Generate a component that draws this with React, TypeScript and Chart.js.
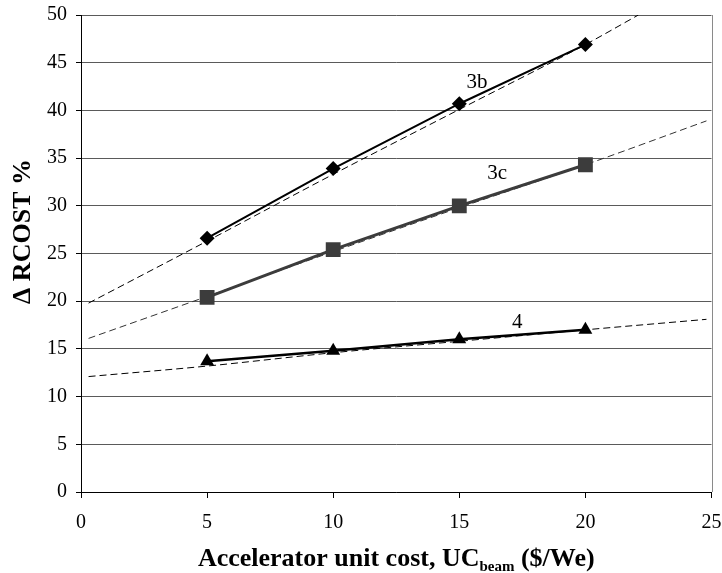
import React, { useEffect, useRef } from "react";
import { Chart, registerables } from "chart.js";

Chart.register(...registerables);

// ---- data ----
const unitCost = [5, 10, 15, 20];
const rcost3b = [26.6, 33.9, 40.7, 46.9];
const rcost3c = [20.4, 25.4, 30.0, 34.3];
const rcost4 = [13.7, 14.8, 16.0, 17.0];

const trendX3b = [0.3, 5, 10, 15, 20, 22.1];
const trendY3b = [19.8, 26.3, 33.3, 40.1, 46.9, 50];
const trendX3c = [0.3, 5, 10, 15, 20, 24.8];
const trendY3c = [16.1, 20.5, 25.2, 29.8, 34.3, 38.9];
const trendX4 = [0.3, 5, 10, 15, 20, 24.8];
const trendY4 = [12.1, 13.2, 14.6, 15.8, 17.0, 18.1];

const seriesLabels = ["3b", "3c", "4"];
const labelX = [15.7, 16.5, 17.3];
const labelY = [42.9, 33.4, 17.8];

const xMin = 0;
const xMax = 25;
const xStep = 5;
const yMin = 0;
const yMax = 50;
const yStep = 5;

const yTitle = "\u0394 RCOST %";
const xTitleMain = "Accelerator unit cost, UC";
const xTitleSub = "beam";
const xTitleTail = " ($/We)";

const FONT = "'Liberation Serif', 'Times New Roman', serif";

const pts = (xs: number[], ys: number[]) => xs.map((x, i) => ({ x, y: ys[i] }));

const overlayPlugin = {
  id: "overlay",
  afterDraw(chart: any) {
    const { ctx, chartArea, scales } = chart;
    const xs = scales.x;
    const ys = scales.y;
    ctx.save();
    // right border of plot area
    ctx.strokeStyle = "#8a8a8a";
    ctx.lineWidth = 1;
    ctx.beginPath();
    ctx.moveTo(Math.round(chartArea.right) + 0.5, chartArea.top);
    ctx.lineTo(Math.round(chartArea.right) + 0.5, chartArea.bottom);
    ctx.stroke();

    // series labels
    ctx.fillStyle = "#000";
    ctx.font = `21px ${FONT}`;
    ctx.textAlign = "center";
    ctx.textBaseline = "middle";
    seriesLabels.forEach((t, i) => {
      ctx.fillText(t, xs.getPixelForValue(labelX[i]), ys.getPixelForValue(labelY[i]));
    });

    // y title
    ctx.save();
    ctx.translate(23, (chartArea.top + chartArea.bottom) / 2 - 22);
    ctx.rotate(-Math.PI / 2);
    ctx.font = `bold 26px ${FONT}`;
    ctx.textAlign = "center";
    ctx.textBaseline = "middle";
    ctx.fillText(yTitle, 0, 0);
    ctx.restore();

    // x title with subscript
    const mainFont = `bold 26px ${FONT}`;
    const subFont = `bold 15px ${FONT}`;
    ctx.textAlign = "left";
    ctx.textBaseline = "alphabetic";
    ctx.font = mainFont;
    const w1 = ctx.measureText(xTitleMain).width;
    const w3 = ctx.measureText(xTitleTail).width;
    ctx.font = subFont;
    const w2 = ctx.measureText(xTitleSub).width;
    const total = w1 + w2 + w3;
    const cx = (chartArea.left + chartArea.right) / 2;
    let x0 = cx - total / 2;
    const base = 566;
    ctx.font = mainFont;
    ctx.fillText(xTitleMain, x0, base);
    x0 += w1;
    ctx.font = subFont;
    ctx.fillText(xTitleSub, x0, base + 5);
    x0 += w2;
    ctx.font = mainFont;
    ctx.fillText(xTitleTail, x0, base);
    ctx.restore();
  },
};

export default function App() {
  const ref = useRef<HTMLCanvasElement | null>(null);
  useEffect(() => {
    if (!ref.current) return;
    const trendStyle = (color: string) => ({
      type: "line" as const,
      borderColor: color,
      borderWidth: 1,
      borderDash: [7, 4],
      pointRadius: 0,
      fill: false,
      cubicInterpolationMode: "monotone" as const,
      showLine: true,
    });
    const chart = new Chart(ref.current, {
      type: "scatter",
      data: {
        datasets: [
          {
            label: "3b",
            data: pts(unitCost, rcost3b),
            showLine: true,
            borderColor: "#000",
            borderWidth: 2,
            pointStyle: "rectRot",
            pointRadius: 7.5,
            pointBackgroundColor: "#000",
            pointBorderColor: "#000",
            pointBorderWidth: 0,
          },
          {
            label: "3c",
            data: pts(unitCost, rcost3c),
            showLine: true,
            borderColor: "#3c3c3c",
            borderWidth: 3,
            pointStyle: "rect",
            pointRadius: 10.5,
            pointBackgroundColor: "#3c3c3c",
            pointBorderColor: "#3c3c3c",
            pointBorderWidth: 0,
          },
          {
            label: "4",
            data: pts(unitCost, rcost4),
            showLine: true,
            borderColor: "#000",
            borderWidth: 2.5,
            pointStyle: "triangle",
            pointRadius: 8,
            pointBackgroundColor: "#000",
            pointBorderColor: "#000",
            pointBorderWidth: 0,
          },
          { label: "t3b", data: pts(trendX3b, trendY3b), ...trendStyle("#000") },
          { label: "t3c", data: pts(trendX3c, trendY3c), ...trendStyle("#333") },
          { label: "t4", data: pts(trendX4, trendY4), ...trendStyle("#000") },
        ] as any,
      },
      options: {
        animation: false,
        responsive: false,
        devicePixelRatio: 1,
        layout: { padding: { top: 15, right: 8, left: 0, bottom: 0 } },
        plugins: {
          legend: { display: false },
          tooltip: { enabled: false },
        },
        scales: {
          x: {
            type: "linear",
            min: xMin,
            max: xMax,
            ticks: {
              stepSize: xStep,
              color: "#000",
              font: { family: FONT, size: 20 },
              padding: 13,
              maxRotation: 0,
            },
            grid: {
              drawOnChartArea: false,
              drawTicks: true,
              tickLength: 6,
              tickColor: "#000",
              color: "#000",
            },
            border: { display: true, color: "#000", width: 1 },
            afterFit(scale: any) {
              scale.height = 81;
              scale.paddingLeft = 0;
              scale.paddingRight = 0;
            },
          },
          y: {
            type: "linear",
            min: yMin,
            max: yMax,
            ticks: {
              stepSize: yStep,
              color: "#000",
              font: { family: FONT, size: 20 },
              padding: 9,
            },
            grid: {
              color: "#5a5a5a",
              lineWidth: 1,
              drawTicks: true,
              tickLength: 5,
              tickColor: "#000",
            },
            border: { display: true, color: "#000", width: 1 },
            afterFit(scale: any) {
              scale.width = 81;
              scale.paddingTop = 0;
              scale.paddingBottom = 0;
            },
          },
        },
      },
      plugins: [overlayPlugin],
    });
    return () => chart.destroy();
  }, []);
  return (
    <div style={{ position: "absolute", left: 0, top: 0, width: 722, height: 573, background: "#fff" }}>
      <canvas ref={ref} width={722} height={573} style={{ display: "block" }} />
    </div>
  );
}
